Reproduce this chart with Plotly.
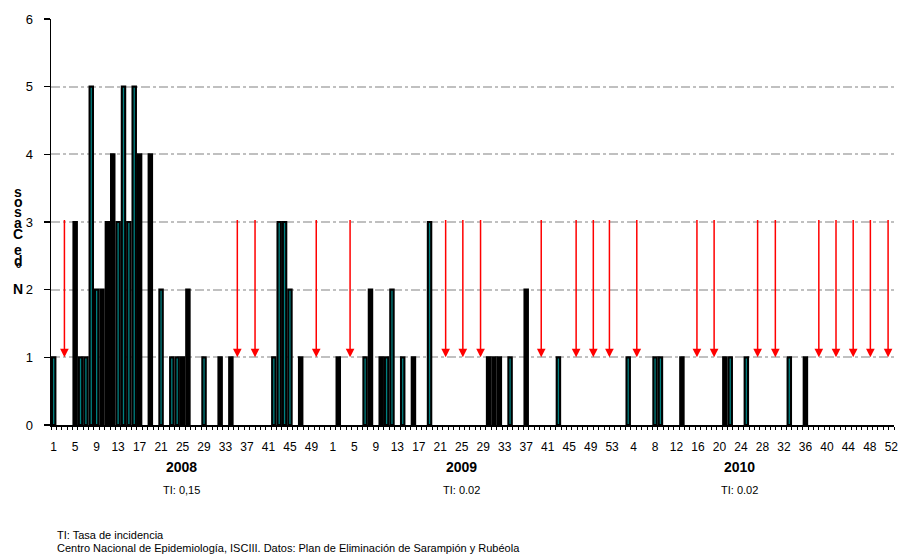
import plotly.graph_objects as go

# ---------------- data ----------------
weeks_2008 = list(range(1, 53))
weeks_2009 = list(range(1, 54))
weeks_2010 = list(range(1, 53))

cases_2008 = [1, 0, 0, 0, 3, 1, 1, 5, 2, 2, 3, 4, 3, 5, 3, 5, 4, 0, 4, 0,
              2, 0, 1, 1, 1, 2, 0, 0, 1, 0, 0, 1, 0, 1, 0, 0, 0, 0, 0, 0,
              0, 1, 3, 3, 2, 0, 1, 0, 0, 0, 0, 0]
cases_2009 = [0, 1, 0, 0, 0, 0, 1, 2, 0, 1, 1, 2, 0, 1, 0, 1, 0, 0, 3, 0,
              0, 0, 0, 0, 0, 0, 0, 0, 0, 1, 1, 1, 0, 1, 0, 0, 2, 0, 0, 0,
              0, 0, 1, 0, 0, 0, 0, 0, 0, 0, 0, 0, 0]
cases_2010 = [0, 0, 1, 0, 0, 0, 0, 1, 1, 0, 0, 0, 1, 0, 0, 0, 0, 0, 0, 0,
              1, 1, 0, 0, 1, 0, 0, 0, 0, 0, 0, 0, 1, 0, 0, 1, 0, 0, 0, 0,
              0, 0, 0, 0, 0, 0, 0, 0, 0, 0, 0, 0]

# weeks drawn as solid black bars (the rest are teal bars)
black_2008 = [5, 10, 11, 12, 17, 19, 25, 26, 32, 34, 47]
black_2009 = [2, 8, 10, 16, 30, 31, 32, 37]
black_2010 = [13, 21, 36]

years = ["2008", "2009", "2010"]
incidence = ["TI: 0,15", "TI: 0.02", "TI: 0.02"]

# positions (on the week axis, 0 = week 1 of 2008) of the red arrows
arrow_positions = [2.0, 34.2, 37.5, 48.9, 55.2, 73.0, 76.2, 79.5, 90.8, 97.3,
                   100.5, 103.5, 108.6, 119.8, 123.0, 131.1, 134.4, 142.5,
                   145.7, 148.9, 152.1, 155.4]
arrow_top, arrow_tip = 3.05, 1.0

y_title_letters = ["s", "o", "s", "a", "C", "e", "d", "º", "N"]
y_title_py = [192, 202, 212, 223, 234, 250, 261, 268, 289]

footnotes = ["TI: Tasa de incidencia",
             "Centro Nacional de Epidemiología, ISCIII. Datos: Plan de Eliminación de Sarampión y Rubéola"]

# ---------------- build ----------------
weeks_all, cases_all, black_all = [], [], []
for wk, cs, bl in ((weeks_2008, cases_2008, black_2008),
                   (weeks_2009, cases_2009, black_2009),
                   (weeks_2010, cases_2010, black_2010)):
    for w, c in zip(wk, cs):
        weeks_all.append(w)
        cases_all.append(c)
        black_all.append(w in bl)

x_idx = list(range(len(weeks_all)))
teal_y = [c if (c > 0 and not b) else None for c, b in zip(cases_all, black_all)]
black_y = [c if (c > 0 and b) else None for c, b in zip(cases_all, black_all)]

tickvals = [i for i in x_idx if i % 4 == 0]
ticktext = [str(weeks_all[i]) for i in tickvals]

W, H = 904, 557
PL, PT = 51, 19          # plot-area top-left in window pixels
PW, PH = 847, 406        # plot-area size
L, T = PL, PT
R = W - L - PW
B = H - T - PH


def px(xp):
    return (xp - PL) / PW


def py(yp):
    return (PT + PH - yp) / PH


fig = go.Figure()
fig.add_trace(go.Bar(x=x_idx, y=teal_y, width=0.63,
                     marker=dict(color="#008080", line=dict(color="black", width=2.1)),
                     hoverinfo="skip", showlegend=False))
fig.add_trace(go.Bar(x=x_idx, y=black_y, width=0.63,
                     marker=dict(color="black", line=dict(color="black", width=2.1)),
                     hoverinfo="skip", showlegend=False))

annotations = []
for a in arrow_positions:
    annotations.append(dict(x=a, y=arrow_tip, ax=a, ay=arrow_top,
                            xref="x", yref="y", axref="x", ayref="y",
                            showarrow=True, arrowhead=2, arrowsize=1.15,
                            arrowwidth=1.5, arrowcolor="#FF0000", text=""))

for letter, yp in zip(y_title_letters, y_title_py):
    annotations.append(dict(x=px(18), y=py(yp), xref="paper", yref="paper",
                            xanchor="center", yanchor="middle", showarrow=False,
                            text="<b>%s</b>" % letter,
                            font=dict(family="Liberation Sans, Arial", size=14, color="black")))

year_px = [182, 463, 743]
for yr, ti, xp in zip(years, incidence, year_px):
    annotations.append(dict(x=px(xp), y=py(467), xref="paper", yref="paper",
                            xanchor="center", yanchor="middle", showarrow=False,
                            text="<b>%s</b>" % yr,
                            font=dict(family="Liberation Sans, Arial", size=14, color="black")))
    annotations.append(dict(x=px(xp), y=py(490), xref="paper", yref="paper",
                            xanchor="center", yanchor="middle", showarrow=False,
                            text=ti,
                            font=dict(family="Liberation Sans, Arial", size=11, color="black")))

for txt, yp in zip(footnotes, [535, 548]):
    annotations.append(dict(x=px(55), y=py(yp), xref="paper", yref="paper",
                            xanchor="left", yanchor="middle", showarrow=False,
                            text=txt,
                            font=dict(family="Liberation Sans, Arial", size=11, color="black")))

fig.update_layout(
    width=W, height=H,
    margin=dict(l=L, r=R, t=T, b=B, pad=0),
    paper_bgcolor="white", plot_bgcolor="white",
    barmode="overlay",
    font=dict(family="Liberation Sans, Arial", color="black"),
    annotations=annotations,
    xaxis=dict(range=[-0.5, len(x_idx) - 0.5], tickmode="array",
               tickvals=tickvals, ticktext=ticktext, ticks="",
               tickfont=dict(size=12, color="black"), tickangle=0,
               ticklabelstandoff=10, ticklabeloverflow="allow",
               showline=True, linecolor="black", linewidth=2,
               showgrid=False, zeroline=False,
               minor=dict(ticks="outside", tick0=-0.5, dtick=1, ticklen=3,
                          tickwidth=1, tickcolor="black", showgrid=False)),
    yaxis=dict(range=[0, 6], dtick=1, tick0=0, ticks="outside", ticklen=6,
               tickcolor="black", tickwidth=1.5,
               tickfont=dict(size=13, color="black"), ticklabelstandoff=8,
               showline=True, linecolor="black", linewidth=1.5,
               showgrid=True, gridcolor="#C0C0C0", gridwidth=2,
               griddash="dashdot", zeroline=False),
)

fig.write_html("out.html",
               config={"displayModeBar": False, "staticPlot": True},
               post_script="document.body.style.margin='0';"
                           "document.body.style.overflow='hidden';")
